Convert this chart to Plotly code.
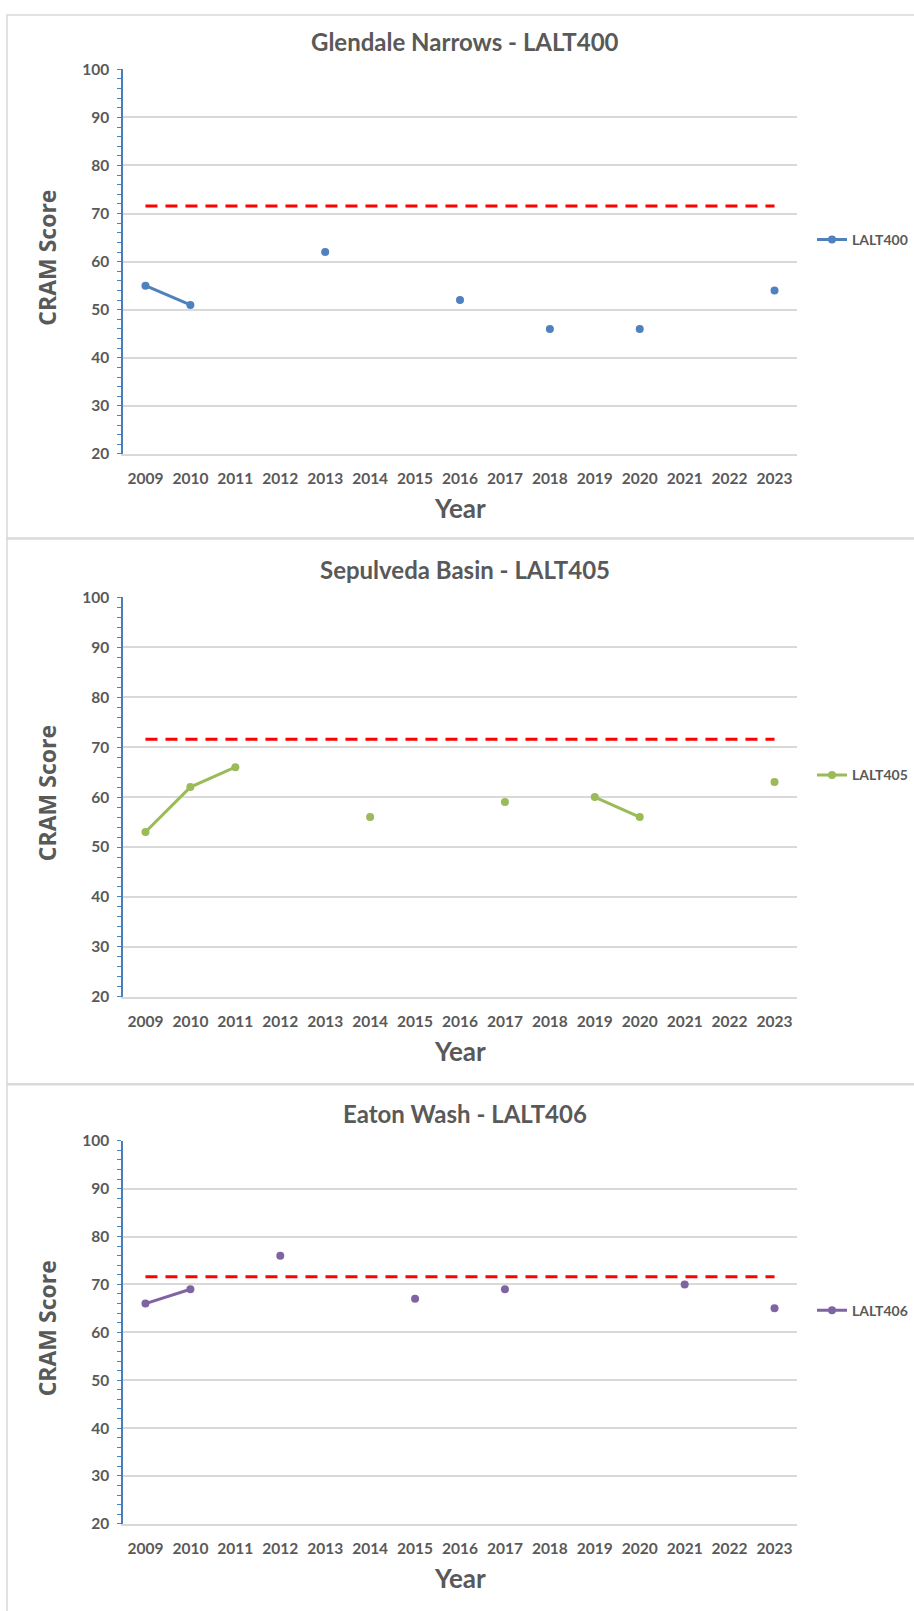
import plotly.graph_objects as go

years = list(range(2009, 2024))
titles = ["Glendale Narrows - LALT400", "Sepulveda Basin - LALT405", "Eaton Wash - LALT406"]
names = ["LALT400", "LALT405", "LALT406"]
colors = ["#4F81BD", "#9BBB59", "#8064A2"]

lalt400 = [55, 51, None, None, 62, None, None, 52, None, 46, None, 46, None, None, 54]
lalt405 = [53, 62, 66, None, None, 56, None, None, 59, None, 60, 56, None, None, 63]
lalt406 = [66, 69, None, 76, None, None, 67, None, 69, None, None, None, 70, None, 65]
series = [lalt400, lalt405, lalt406]

threshold = 71.6
y_ticks = [20, 30, 40, 50, 60, 70, 80, 90, 100]

W, H = 914, 1611
TEXT = "#595959"
GRID = "#D9D9D9"
AXIS = "#4A7EBB"

# plot-area pixel boxes (top of 100, bottom at 20) per panel
panels = [
    dict(top=60, bot=449, ptop=5, pbot=535),
    dict(top=594, bot=998, ptop=534, pbot=1087),
    dict(top=1143.5, bot=1531, ptop=1086, pbot=1620),
]
x0, x1 = 123, 797

fig = go.Figure()
shapes = []
annotations = []
layout = {}

for i, (p, ys) in enumerate(zip(panels, series)):
    k = "" if i == 0 else str(i + 1)
    xa, ya = "x" + k, "y" + k
    lg = "legend" + k
    fig.add_trace(go.Scatter(
        x=years, y=ys, mode="lines+markers", name=names[i],
        line=dict(color=colors[i], width=3), marker=dict(size=8, color=colors[i]),
        connectgaps=False, xaxis=xa, yaxis=ya, legend=lg,
    ))
    fig.add_trace(go.Scatter(
        x=[years[0], years[-1]], y=[threshold, threshold], mode="lines",
        line=dict(color="#FF0000", width=3, dash="12px,8px"),
        showlegend=False, xaxis=xa, yaxis=ya, hoverinfo="skip",
    ))
    dom_y = [1 - p["bot"] / H, 1 - p["top"] / H]
    layout["xaxis" + k] = dict(
        domain=[x0 / W, x1 / W], range=[2008.5, 2023.5], tickmode="array",
        tickvals=years, ticktext=[str(y) for y in years], showgrid=False,
        zeroline=False, showline=True, linecolor=GRID, linewidth=1.5, ticks="",
        tickfont=dict(family="Lato", size=15.5, color=TEXT, weight="bold"),
        ticklabelstandoff=10, anchor=ya, fixedrange=True,
    )
    layout["yaxis" + k] = dict(
        domain=dom_y, range=[20, 100], tickmode="array", tickvals=y_ticks,
        showgrid=True, gridcolor=GRID, gridwidth=1.5, zeroline=False,
        showline=True, linecolor=AXIS, linewidth=1.5,
        ticks="outside", ticklen=4, tickcolor=AXIS, tickwidth=1,
        minor=dict(dtick=2, ticks="outside", ticklen=4, tickcolor=AXIS, showgrid=False),
        tickfont=dict(family="Lato", size=15.5, color=TEXT, weight="bold"),
        ticklabelstandoff=5, anchor=xa, fixedrange=True,
    )
    layout[lg] = dict(
        x=812 / W, y=1 - ((p["top"] + p["bot"]) / 2 - 22) / H, xanchor="left", yanchor="middle",
        font=dict(family="Lato", size=14, color=TEXT, weight="bold"),
        bgcolor="rgba(0,0,0,0)", itemwidth=30,
    )
    shapes.append(dict(type="rect", xref="paper", yref="paper",
                       x0=7 / W, x1=1.05, y0=1 - p["pbot"] / H, y1=1 - p["ptop"] / H,
                       line=dict(color=GRID, width=1.5), fillcolor="rgba(0,0,0,0)", layer="below"))
    annotations.append(dict(text=titles[i], xref="paper", yref="paper",
                            x=465 / W, y=1 - (p["top"] - 28) / H, showarrow=False,
                            xanchor="center", yanchor="middle",
                            font=dict(family="Lato", size=24, color=TEXT, weight="bold")))
    annotations.append(dict(text="CRAM Score", xref="paper", yref="paper",
                            x=47 / W, y=1 - ((p["top"] + p["bot"]) / 2 - 4) / H, showarrow=False,
                            textangle=-90, xanchor="center", yanchor="middle",
                            font=dict(family="Open Sans", size=23, color=TEXT, weight="bold")))
    annotations.append(dict(text="Year", xref="paper", yref="paper",
                            x=460 / W, y=1 - (p["bot"] + 55) / H, showarrow=False,
                            xanchor="center", yanchor="middle",
                            font=dict(family="Lato", size=26, color=TEXT, weight="bold")))

fig.update_layout(
    width=W, height=H, margin=dict(l=0, r=0, t=0, b=0),
    paper_bgcolor="white", plot_bgcolor="white",
    shapes=shapes, annotations=annotations, **layout,
)
fig.write_html("out.html")
